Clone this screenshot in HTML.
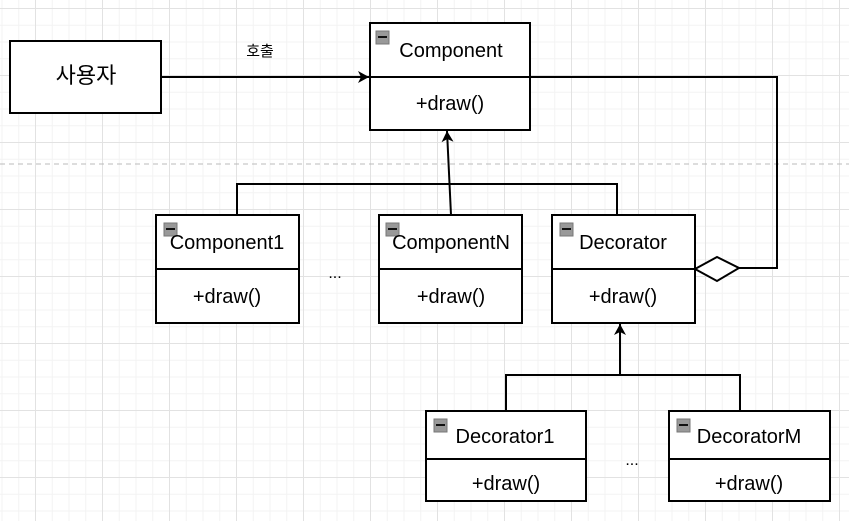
<!DOCTYPE html>
<html><head><meta charset="utf-8"><style>
body{margin:0;width:849px;height:521px;overflow:hidden;background:#fff;
background-image:linear-gradient(#e2e2e2 1px,transparent 1px),linear-gradient(90deg,#e2e2e2 1px,transparent 1px),linear-gradient(#f3f3f3 1px,transparent 1px),linear-gradient(90deg,#f3f3f3 1px,transparent 1px);
background-size:67px 67px,67px 67px,16.75px 16.75px,16.75px 16.75px;background-position:35px 8px;}
svg{position:absolute;left:0;top:0}
text{font-family:"Liberation Sans","Noto Sans CJK KR",sans-serif;fill:#000}
</style></head><body>
<svg width="849" height="521" viewBox="0 0 849 521">
<defs>
<marker id="a" markerWidth="12" markerHeight="12" refX="11" refY="6" orient="auto" markerUnits="userSpaceOnUse"><path d="M0,0 L11,6 L0,12 L3,6 Z" fill="#000"/></marker>
<g id="ic"><rect x="0" y="0" width="13" height="13" fill="#999" stroke="#777"/><rect x="2" y="5" width="9" height="2" fill="#111"/></g>
</defs>
<line x1="0" y1="164" x2="849" y2="164" stroke="#bbb" stroke-width="1" stroke-dasharray="5,4"/>
<g fill="#fff" stroke="#000" stroke-width="2">
<rect x="10" y="41" width="151" height="72"/>
<rect x="370" y="23" width="160" height="107"/><line x1="370" y1="77" x2="530" y2="77"/>
<rect x="156" y="215" width="143" height="108"/><line x1="156" y1="269" x2="299" y2="269"/>
<rect x="379" y="215" width="143" height="108"/><line x1="379" y1="269" x2="522" y2="269"/>
<rect x="552" y="215" width="143" height="108"/><line x1="552" y1="269" x2="695" y2="269"/>
<rect x="426" y="411" width="160" height="90"/><line x1="426" y1="459" x2="586" y2="459"/>
<rect x="669" y="411" width="161" height="90"/><line x1="669" y1="459" x2="830" y2="459"/>
</g>
<g fill="none" stroke="#000" stroke-width="2">
<line x1="161" y1="77" x2="369" y2="77" marker-end="url(#a)"/>
<polyline points="530,77 777,77 777,268 739,268"/>
<polygon points="695,269 717,257 739,268 717,281" fill="#fff"/>
<polyline points="237,215 237,184 617,184 617,215"/>
<line x1="451" y1="215" x2="447" y2="131" marker-end="url(#a)"/>
<polyline points="506,411 506,375 740,375 740,411"/>
<line x1="620" y1="375" x2="620" y2="324" marker-end="url(#a)"/>
</g>
<use href="#ic" x="376" y="31"/><use href="#ic" x="164" y="223"/><use href="#ic" x="386" y="223"/><use href="#ic" x="560" y="223"/><use href="#ic" x="434" y="419"/><use href="#ic" x="677" y="419"/>
<g font-size="20" text-anchor="middle">
<text x="86" y="83" font-size="22">사용자</text>
<text x="260" y="56" font-size="15">호출</text>
<text x="451" y="57">Component</text><text x="450" y="110">+draw()</text>
<text x="227" y="249">Component1</text><text x="227" y="303">+draw()</text>
<text x="451" y="249">ComponentN</text><text x="451" y="303">+draw()</text>
<text x="623" y="249">Decorator</text><text x="623" y="303">+draw()</text>
<text x="505" y="443">Decorator1</text><text x="506" y="490">+draw()</text>
<text x="749" y="443">DecoratorM</text><text x="749" y="490">+draw()</text>
<text x="335" y="278" font-size="16">...</text>
<text x="632" y="465" font-size="16">...</text>
</g>
</svg>
</body></html>
